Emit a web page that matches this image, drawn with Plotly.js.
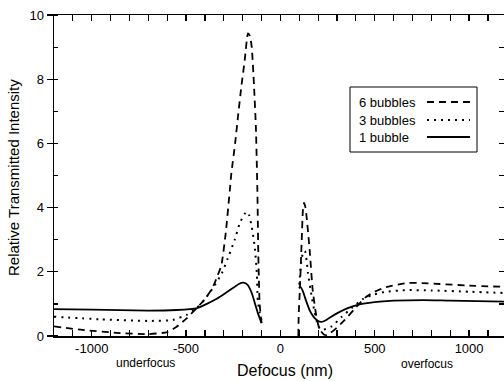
<!DOCTYPE html>
<html>
<head>
<meta charset="utf-8">
<script src="https://cdn.plot.ly/plotly-3.0.1.min.js"></script>
<style>html,body{margin:0;padding:0;background:#fff}#chart{width:504px;height:381px}</style>
</head>
<body>
<div id="chart"></div>
<script>
// ---- data ----
var seriesNames = ["6 bubbles", "3 bubbles", "1 bubble"];

var x6 = [-1200,-1050,-870,-700,-600,-550,-497,-445,-400,-360,-335,-313,-290,-268,-260,-240,-225,-207,-189,-172,-162,-152,-140,-130,-122,-117,-110,-100,
          null,
          95,97,103,113,119,125,133,139,155,171,191,208,230,245,265,288,341,394,450,500,560,669,750,844,1000,1190];
var y6 = [0.30,0.19,0.10,0.06,0.12,0.29,0.55,0.86,1.15,1.5,1.85,2.2,3.2,4.55,5.07,6.0,6.83,7.77,8.6,9.43,9.35,9.0,7.8,6.5,4.5,2.5,1.0,0.4,
          null,
          0.0,0.7,1.43,3.0,3.9,4.15,4.0,3.7,2.68,1.43,0.6,0.2,0.05,0.03,0.1,0.2,0.5,0.85,1.2,1.38,1.52,1.65,1.65,1.62,1.57,1.53];

var x3 = [-1200,-956,-692,-570,-497,-445,-400,-357,-311,-280,-242,-215,-190,-178,-165,-152,-136,-125,-120,-110,-100,
          null,
          100,110,120,130,140,146,166,182,198,212,230,272,325,378,436,490,560,669,800,1000,1190];
var y3 = [0.60,0.52,0.47,0.50,0.66,0.86,1.15,1.5,1.95,2.4,3.0,3.52,3.8,3.87,3.75,3.4,2.77,1.96,1.12,0.72,0.5,
          null,
          1.6,2.3,2.6,2.65,2.3,1.96,1.22,0.72,0.35,0.2,0.2,0.3,0.6,0.87,1.15,1.28,1.38,1.43,1.42,1.38,1.34];

var x1 = [-1200,-1000,-700,-550,-445,-390,-340,-300,-250,-220,-196,-175,-152,-136,-120,-100,
          null,
          97,108,120,129,142,155,170,182,200,215,230,251,304,357,410,470,526,600,756,900,1190];
var y1 = [0.84,0.82,0.79,0.81,0.86,1.0,1.15,1.3,1.5,1.62,1.66,1.6,1.34,1.03,0.72,0.4,
          null,
          1.5,1.52,1.38,1.22,1.0,0.8,0.65,0.56,0.47,0.44,0.46,0.53,0.72,0.87,0.97,1.03,1.07,1.1,1.12,1.1,1.07];

var xTickVals = [-1000,-500,0,500,1000];
var yTickVals = [0,2,4,6,8,10];

// ---- chart ----
var FONT = "Liberation Sans, Arial, sans-serif";
var dashes = ["7px,5px", "2px,5px", "solid"];
var xs = [x6, x3, x1], ys = [y6, y3, y1];
var traces = xs.map(function(xv, i){
  return {x: xv, y: ys[i], type: "scatter", mode: "lines", name: seriesNames[i],
          connectgaps: false, showlegend: false,
          line: {color: "#000", width: i === 1 ? 2 : 1.8, dash: dashes[i], shape: "spline", smoothing: 0.5}};
});
// empty helper trace so the right-hand tick axis is drawn
traces.push({x: [], y: [], type: "scatter", mode: "lines", yaxis: "y2", showlegend: false, hoverinfo: "skip"});

function px2x(p){ return (p - 54) / 450; }
function py2y(p){ return (336 - p) / 321; }

// custom legend (text left, line sample right)
var legRowsY = [py2y(102), py2y(120), py2y(137)];
var annotations = seriesNames.map(function(n, i){
  return {xref: "paper", yref: "paper", x: px2x(357), y: legRowsY[i], xanchor: "left", yanchor: "middle",
          text: n, showarrow: false, font: {family: FONT, size: 13, color: "#000"}};
});
annotations.push({xref: "paper", yref: "paper", x: px2x(145), y: py2y(363), text: "underfocus",
  showarrow: false, xanchor: "center", yanchor: "middle", font: {family: FONT, size: 12, color: "#000"}});
annotations.push({xref: "paper", yref: "paper", x: px2x(427), y: py2y(364), text: "overfocus",
  showarrow: false, xanchor: "center", yanchor: "middle", font: {family: FONT, size: 12, color: "#000"}});
annotations.push({xref: "paper", yref: "paper", x: px2x(285), y: py2y(371), text: "Defocus (nm)",
  showarrow: false, xanchor: "center", yanchor: "middle", font: {family: FONT, size: 16, color: "#000"}});
annotations.push({xref: "paper", yref: "paper", x: px2x(14), y: py2y(178), text: "Relative Transmitted Intensity",
  textangle: -90, showarrow: false, xanchor: "center", yanchor: "middle", font: {family: FONT, size: 15, color: "#000"}});

var shapes = [{type: "rect", xref: "paper", yref: "paper", x0: px2x(350), x1: px2x(477), y0: py2y(152), y1: py2y(87),
               line: {color: "#000", width: 1}, fillcolor: "#fff", layer: "above"}];
seriesNames.forEach(function(n, i){
  shapes.push({type: "line", xref: "paper", yref: "paper", x0: px2x(427), x1: px2x(470), y0: legRowsY[i], y1: legRowsY[i],
               line: {color: "#000", width: i === 1 ? 2 : 1.8, dash: dashes[i]}, layer: "above"});
});

var layout = {
  width: 504, height: 381,
  margin: {l: 54, r: 0, t: 15, b: 45, pad: 0},
  paper_bgcolor: "#fff", plot_bgcolor: "#fff",
  font: {family: FONT, size: 13, color: "#000"},
  xaxis: {range: [-1200, 1185], showgrid: false, zeroline: false, showline: true, linecolor: "#000", linewidth: 1.5,
          mirror: "allticks", ticks: "inside", ticklen: 6, tickwidth: 1.2, tickcolor: "#000",
          tickmode: "array", tickvals: xTickVals, ticktext: xTickVals.map(String),
          minor: {dtick: 100, tick0: 0, ticks: "inside", ticklen: 4, tickcolor: "#000", showgrid: false},
          tickfont: {family: FONT, size: 13}},
  yaxis: {range: [0, 10], showgrid: false, zeroline: false, showline: true, linecolor: "#000", linewidth: 1.5,
          ticks: "outside", ticklen: 6, tickwidth: 1.2, tickcolor: "#000",
          tickmode: "array", tickvals: yTickVals, ticktext: yTickVals.map(String),
          minor: {dtick: 1, tick0: 0, ticks: "inside", ticklen: 4, tickcolor: "#000", showgrid: false},
          tickfont: {family: FONT, size: 13}},
  yaxis2: {range: [0, 10], overlaying: "y", side: "right", showgrid: false, zeroline: false, showline: false,
           ticks: "inside", ticklen: 5, tickwidth: 1.2, tickcolor: "#000", tickmode: "linear", tick0: 0, dtick: 1,
           showticklabels: false, autorange: false},
  annotations: annotations,
  shapes: shapes,
  showlegend: false
};

Plotly.newPlot("chart", traces, layout, {displayModeBar: false, staticPlot: true});
</script>
</body>
</html>
